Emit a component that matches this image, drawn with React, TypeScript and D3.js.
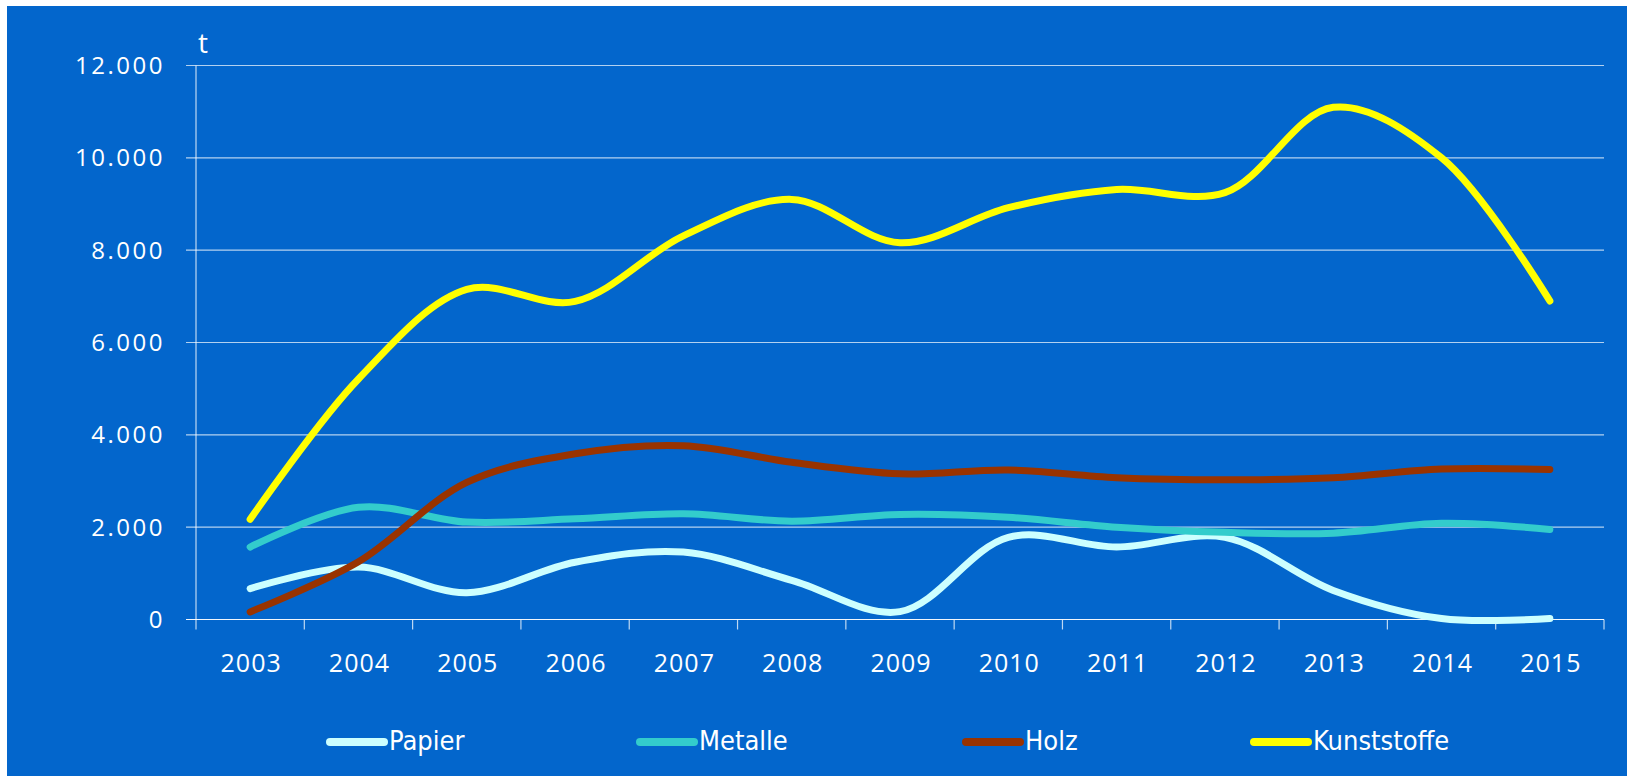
import React from "react";
import * as d3 from "d3";

const years = ["2003","2004","2005","2006","2007","2008","2009","2010","2011","2012","2013","2014","2015"];
const papier = [670, 1135, 580, 1240, 1460, 850, 170, 1780, 1570, 1780, 630, 20, 20];
const metalle = [1570, 2430, 2110, 2180, 2290, 2130, 2275, 2215, 2000, 1890, 1870, 2085, 1950];
const holz = [165, 1250, 2970, 3590, 3765, 3405, 3155, 3240, 3070, 3025, 3070, 3260, 3250];
const kunststoffe = [2170, 5210, 7150, 6890, 8310, 9100, 8160, 8920, 9315, 9245, 11095, 10000, 6900];
const yTicks = [0, 2000, 4000, 6000, 8000, 10000, 12000];
const seriesNames = ["Papier", "Metalle", "Holz", "Kunststoffe"];
const seriesColors = ["#CCFFFF", "#33CCCC", "#993300", "#FFFF00"];
const seriesData = [papier, metalle, holz, kunststoffe];
const legendX = [330, 640, 966, 1254];

const W = 1627, H = 776;
const left = 196, right = 1604, top = 65.5, bottom = 619.5;

export default function App() {
  const x = d3.scaleBand<string>().domain(years).range([left, right]);
  const y = d3.scaleLinear().domain([0, 12000]).range([bottom, top]);
  const line = d3
    .line<number>()
    .x((_, i) => (x(years[i]) as number) + x.bandwidth() / 2)
    .y((d) => y(d))
    .curve(d3.curveCatmullRom.alpha(0.5));
  const fmt = (v: number) => d3.format(",")(v).replace(/,/g, ".");
  const font = "'Open Sans', 'Noto Sans', sans-serif";
  const condFont = "'DejaVu Sans Condensed', 'Liberation Sans Narrow', sans-serif";
  return (
    <svg width={W} height={H} style={{ position: "absolute", left: 0, top: 0 }}>
      <rect x={7} y={6} width={W - 7} height={H - 6} fill="#0366CC" />
      {yTicks.map((t) => (
        <g key={t}>
          <line x1={186} x2={right} y1={y(t)} y2={y(t)} stroke="#FFFFFF" strokeOpacity={t === 0 ? 0.95 : 0.7} strokeWidth={1.2} />
          <text x={165} y={y(t) + 8.5} textAnchor="end" fill="#FFFFFF" fontFamily={font} fontSize={24} letterSpacing={2.5}>
            {fmt(t)}
          </text>
        </g>
      ))}
      <line x1={left} x2={left} y1={top} y2={bottom + 10} stroke="#FFFFFF" strokeOpacity={0.75} strokeWidth={1.2} />
      {years.map((yr) => (
        <line key={"t" + yr} x1={(x(yr) as number) + x.bandwidth()} x2={(x(yr) as number) + x.bandwidth()} y1={bottom} y2={bottom + 10} stroke="#FFFFFF" strokeOpacity={0.75} strokeWidth={1.2} />
      ))}
      {years.map((yr) => (
        <text key={"l" + yr} x={(x(yr) as number) + x.bandwidth() / 2 + 1} y={672} textAnchor="middle" fill="#FFFFFF" fontFamily={font} fontSize={25} letterSpacing={1}>
          {yr}
        </text>
      ))}
      <text x={198} y={53} fill="#FFFFFF" fontFamily={font} fontSize={28}>t</text>
      {seriesData.map((s, k) => (
        <path key={seriesNames[k]} d={line(s) || ""} fill="none" stroke={seriesColors[k]} strokeWidth={7} strokeLinecap="round" strokeLinejoin="round" />
      ))}
      {seriesNames.map((n, k) => (
        <g key={"lg" + n}>
          <line x1={legendX[k]} x2={legendX[k] + 54} y1={742} y2={742} stroke={seriesColors[k]} strokeWidth={8} strokeLinecap="round" />
          <text x={legendX[k] + 59} y={750} fill="#FFFFFF" fontFamily={condFont} fontSize={27}>
            {n}
          </text>
        </g>
      ))}
    </svg>
  );
}
